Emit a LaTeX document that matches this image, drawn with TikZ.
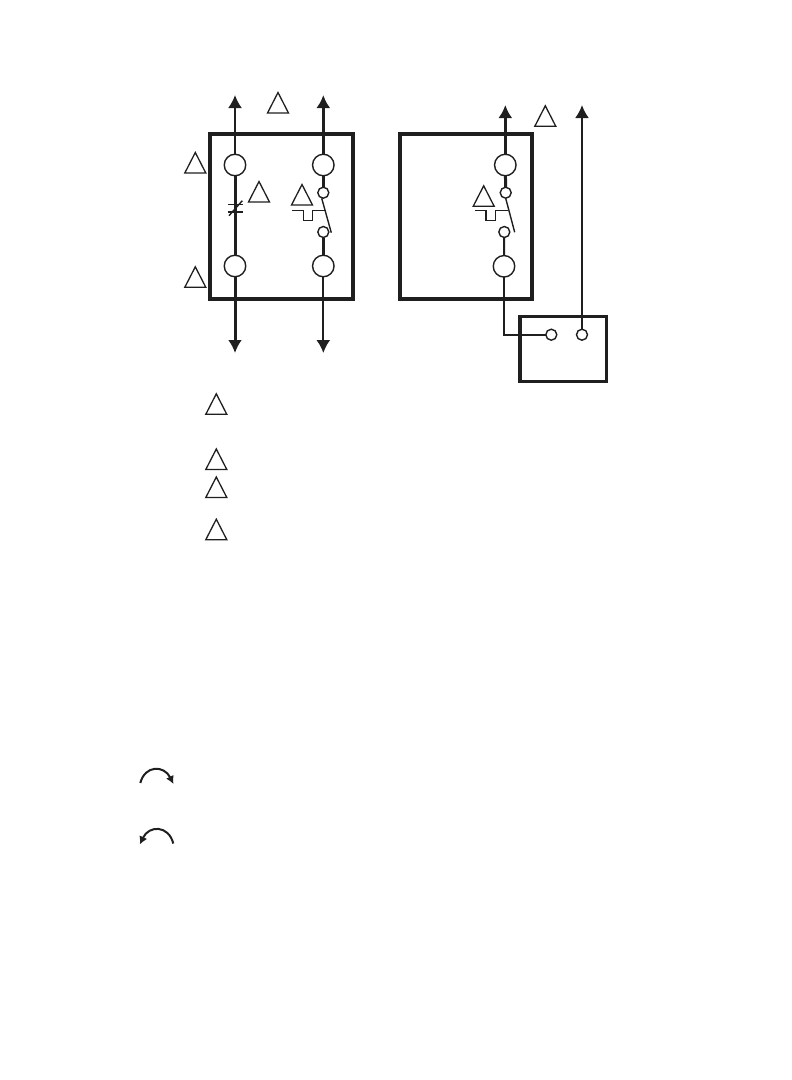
\documentclass[tikz,border=0pt]{standalone}
\usepackage{tikz}
\usetikzlibrary{arrows.meta,shapes.geometric}

\begin{document}
\begin{tikzpicture}[
        x=1pt,y=-1pt,
        line join=miter,
        every path/.append style={color=black!88},
        housing/.style={rectangle,draw,line width=#1,outer sep=0pt,inner sep=0pt},
        bigterm/.style={circle,draw,line width=1.4pt,minimum size=21.5pt,inner sep=0pt,outer sep=0pt},
        smallterm/.style={circle,draw,line width=1.4pt,minimum size=11pt,inner sep=0pt,outer sep=0pt},
        flag/.style={isosceles triangle,isosceles triangle stretches,shape border rotate=90,draw,line width=1.3pt,
            minimum width=21pt,minimum height=20.5pt,inner sep=0pt,outer sep=0pt,anchor=apex},
        heavy/.style={line width=3pt},
        light/.style={line width=2pt},
        thin wire/.style={line width=1.4pt},
        tipped/.style={-{Latex[length=13pt,width=14pt]}},
        turn/.style={line width=2pt,-{Latex[length=8pt,width=8.5pt]}}
    ]
        \useasboundingbox (0,0) rectangle (792,1080);

        % housings
        \node (caseA) [housing=4pt,minimum width=142.7pt,minimum height=164.4pt] at (281.6,216.5) {};
        \node (caseB) [housing=4pt,minimum width=132pt,minimum height=164.7pt] at (466,216.4) {};
        \node (caseC) [housing=3.5pt,minimum width=86.3pt,minimum height=65pt] at (563.2,349.2) {};

        % left unit
        \node (termAa) [bigterm] at (235,165) {};
        \node (termAb) [bigterm] at (235,266) {};
        \node (termBa) [bigterm] at (323.3,165) {};
        \node (termBb) [bigterm] at (323.3,266) {};
        \node (contBa) [smallterm] at (323.3,192.7) {};
        \node (contBb) [smallterm] at (323.3,232) {};

        \coordinate (tipAa) at (235,95);
        \coordinate (tipAb) at (235,353);
        \coordinate (tipBa) at (323.3,95);
        \coordinate (tipBb) at (323.3,353);

        \draw [light,tipped] (termAa) -- (tipAa);
        \draw [heavy,tipped] (termAb) -- (tipAb);
        \draw [heavy,tipped] (termBa) -- (tipBa);
        \draw [light,tipped] (termBb) -- (tipBb);
        \draw [heavy] (termAa) -- (termAb);
        \draw [heavy] (termBa) -- (contBa);
        \draw [heavy] (contBb) -- (termBb);

        % break mark
        \draw [thin wire] (228.3,204.3) -- (242.7,204.3);
        \draw [thin wire] (228.3,212) -- (242.7,212);
        \draw [thin wire] (229,215.7) -- (242.3,200.7);

        % switch
        \draw [thin wire] (321.7,198.3) -- (331.3,232.7);
        \draw [thin wire] (292,210.7) -- (303.3,210.7) -- (303.3,220.7) -- (312.7,220.7) -- (312.7,210.7) -- (325,210.7);

        % right unit
        \node (termCa) [bigterm] at (505.3,165) {};
        \node (termCb) [bigterm] at (504,266.3) {};
        \node (contCa) [smallterm] at (505.7,192.7) {};
        \node (contCb) [smallterm] at (504.3,232) {};
        \node (contDa) [smallterm] at (551.3,334.7) {};
        \node (contDb) [smallterm] at (582,334.7) {};

        \coordinate (tipCa) at (505.3,105);
        \coordinate (tipDb) at (582,105);
        \coordinate (bendC) at (504,334.7);

        \draw [heavy,tipped] (termCa) -- (tipCa);
        \draw [light,tipped] (contDb) -- (tipDb);
        \draw [heavy] (termCa) -- (contCa);
        \draw [light] (contCb) -- (termCb);
        \draw [light] (termCb) -- (bendC) -- (contDa);

        \draw [thin wire] (505.7,198.3) -- (514.7,232.3);
        \draw [thin wire] (475,210.7) -- (486,210.7) -- (486,220.7) -- (495.3,220.7) -- (495.3,210.7) -- (508.3,210.7);

        % flags on the diagram
        \node (flagA) [flag] at (278,92.5) {};
        \node (flagB) [flag] at (195.3,152.5) {};
        \node (flagC) [flag] at (195.3,266.8) {};
        \node (flagD) [flag] at (259,181.5) {};
        \node (flagE) [flag] at (302,184.5) {};
        \node (flagF) [flag] at (545.3,105.8) {};
        \node (flagG) [flag] at (483.7,185.8) {};

        % flags of the notes
        \node (noteA) [flag] at (216.3,393.8) {};
        \node (noteB) [flag] at (216.3,449) {};
        \node (noteC) [flag] at (216.3,477) {};
        \node (noteD) [flag] at (216.3,519.2) {};

        % rotation marks
        \coordinate (turnAa) at (140.3,783);
        \coordinate (turnAb) at (173.5,784);
        \coordinate (turnBa) at (173.3,843.5);
        \coordinate (turnBb) at (139.8,844.5);
        \draw [turn] (turnAa) .. controls (145,765) and (164,765) .. (turnAb);
        \draw [turn] (turnBa) .. controls (168.5,825) and (149,825) .. (turnBb);
    \end{tikzpicture}
\end{document}
